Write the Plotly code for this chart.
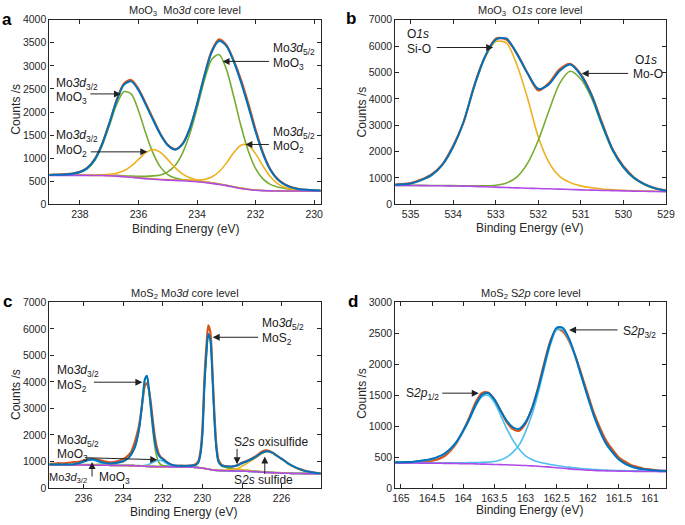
import numpy as np
import plotly.graph_objects as go

W, H = 685, 525
FONT = "Liberation Sans, Arial, Helvetica, sans-serif"

C_DATA = "#D95319"
C_FIT = "#0072BD"
C_GREEN = "#77AC30"
C_YELLOW = "#EDB120"
C_LBLUE = "#4DBEEE"
C_BG = "#B04AE8"

# ---------------- panel a : MoO3 Mo3d ----------------
E_a = [239.25, 239.0, 238.75, 238.5, 238.25, 238.0, 237.75, 237.5, 237.25, 237.0,
       236.75, 236.5, 236.25, 236.0, 235.75, 235.5, 235.25, 235.0, 234.75, 234.5,
       234.25, 234.0, 233.75, 233.5, 233.25, 233.0, 232.75, 232.5, 232.25, 232.0,
       231.75, 231.5, 231.25, 231.0, 230.75, 230.5, 230.25, 230.0, 229.75]
bg_a = [628, 628, 628, 628, 628, 628, 627, 626, 624, 620, 612, 600, 586, 570, 557, 545, 534, 525, 517, 510,
        501, 490, 474, 455, 432, 405, 375, 345, 322, 305, 297, 292, 290, 289, 288, 288, 288, 288, 288]
moo3_32_a = [2, 4, 7, 12, 25, 60, 143, 318, 634, 1077, 1545, 1840, 1805, 1459, 982, 559, 273, 121, 53, 28,
             18, 14, 11, 10, 8, 7, 6, 6, 5, 5, 4, 4, 4, 3, 3, 3, 3, 3, 3]
moo3_52_a = [2, 3, 3, 4, 5, 6, 7, 8, 10, 12, 15, 19, 26, 37, 50, 71, 104, 178, 324, 595,
             1021, 1590, 2211, 2685, 2812, 2524, 1966, 1351, 832, 468, 254, 141, 87, 58, 30, 20, 12, 8, 5]
moo2_32_a = [1, 1, 2, 2, 3, 4, 6, 10, 18, 31, 62, 127, 243, 403, 562, 644, 593, 444, 278, 150,
             74, 36, 20, 14, 10, 8, 7, 6, 5, 5, 4, 4, 3, 3, 3, 2, 2, 2, 2]
moo2_52_a = [1, 1, 1, 1, 2, 2, 2, 2, 2, 3, 3, 3, 4, 5, 6, 7, 9, 11, 13, 17,
             23, 35, 65, 137, 274, 488, 741, 937, 958, 789, 537, 310, 157, 76, 39, 15, 9, 6, 4]
resid_a = [-4, 3, 5, 8, 5, 5, 5, 10, 12, 5, 15, 25, 30, 25, 30, 25, 10, 10, 10, 10,
           5, 5, 10, 20, 40, 20, 20, 50, 60, 40, 25, 10, 5, 0, 0, 0, 0, -3, -5]

# ---------------- panel b : MoO3 O1s ----------------
E_b = [535.5, 535.25, 535.0, 534.75, 534.5, 534.25, 534.0, 533.75, 533.5, 533.25,
       533.0, 532.75, 532.5, 532.25, 532.0, 531.75, 531.5, 531.25, 531.0, 530.75,
       530.5, 530.25, 530.0, 529.75, 529.5, 529.25, 529.0]
bg_b = [716, 715, 714, 711, 708, 703, 698, 690, 680, 667, 652, 638, 625, 612, 600, 589, 578, 564, 550, 539,
        528, 520, 512, 503, 495, 488, 482]
sio_b = [20, 35, 70, 200, 400, 794, 1471, 2453, 3800, 4900, 5520, 5480, 4650, 3400, 1950, 1000, 480, 260, 150, 90,
         55, 35, 22, 15, 11, 8, 6]
moo_b = [5, 5, 6, 7, 8, 10, 12, 16, 22, 35, 70, 170, 420, 950, 1830, 2960, 4000, 4480, 4200, 3500,
         2450, 1500, 880, 480, 250, 110, 30]
resid_b = [0, 10, 15, 20, 30, 20, 40, -20, 30, 0, 40, -40, 20, 0, -60, 50, 60, 20, 30, 40,
           50, 20, 30, 20, 10, 0, 0]

# ---------------- panel c : MoS2 Mo3d ----------------
E_c = [237.75, 237.5, 237.25, 237.0, 236.75, 236.5, 236.25, 236.0, 235.75, 235.5,
       235.25, 235.0, 234.75, 234.5, 234.25, 234.0, 233.75, 233.6, 233.5, 233.4,
       233.3, 233.2, 233.1, 233.0, 232.9, 232.8, 232.7, 232.6, 232.5, 232.4,
       232.3, 232.2, 232.1, 232.0, 231.75, 231.5, 231.25, 231.0, 230.75, 230.5,
       230.4, 230.3, 230.2, 230.1, 230.0, 229.9, 229.8, 229.7, 229.6, 229.5,
       229.4, 229.3, 229.2, 229.1, 229.0, 228.75, 228.5, 228.25, 228.0, 227.75,
       227.5, 227.25, 227.0, 226.75, 226.5, 226.25, 226.0, 225.75, 225.5, 225.25,
       225.0, 224.75, 224.5, 224.25, 224.0]
bg_c = [880, 878, 876, 874, 872, 870, 868, 866, 864, 862, 860, 858, 856, 854, 852, 850, 847,
        845, 843, 841, 838, 834, 829, 824, 819, 815, 811, 808, 806, 805, 804, 803, 802, 801,
        800, 798, 796, 794, 790, 784,
        780, 775, 769, 761, 751, 739, 725, 710, 696, 684, 674, 667, 662, 658, 655,
        650, 646, 642, 637, 630, 622, 612, 601, 590, 580, 571, 563, 557, 552, 548, 545, 542, 540, 538, 537]
mos2_32_c = [6, 7, 8, 9, 10, 12, 14, 17, 20, 25, 30, 38, 50, 70, 100, 150, 270,
             405, 540, 710, 980, 1350, 1925, 2640, 3245, 3350, 2840, 2100, 1350, 745, 370, 170, 85, 50,
             25, 16, 12, 10, 8, 7,
             7, 6, 6, 6, 5, 5, 5, 5, 5, 4, 4, 4, 4, 4, 4,
             4, 3, 3, 3, 3, 3, 3, 3, 3, 2, 2, 2, 2, 2, 2, 2, 2, 2, 2, 2]
mos2_52_c = [4, 4, 5, 5, 5, 5, 6, 6, 6, 7, 7, 7, 8, 8, 9, 9, 10,
             10, 11, 11, 12, 12, 13, 13, 14, 14, 15, 15, 16, 16, 17, 17, 18, 18,
             20, 19, 22, 28, 38, 55,
             70, 110, 200, 505, 1260, 3030, 4290, 5090, 4880, 3640, 2020, 860, 350, 225, 165,
             110, 75, 55, 42, 34, 28, 24, 20, 17, 15, 13, 12, 11, 10, 9, 8, 8, 7, 7, 6]
moo3_32_c = [0, 0, 0, 0, 2, 12, 45, 110, 176, 184, 125, 55, 16, 4, 0, 0, 0,
             0, 0, 0, 0, 0, 0, 0, 0, 0, 0, 0, 0, 0, 0, 0, 0, 0,
             0, 0, 0, 0, 0, 0,
             0, 0, 0, 0, 0, 0, 0, 0, 0, 0, 0, 0, 0, 0, 0,
             0, 0, 0, 0, 0, 0, 0, 0, 0, 0, 0, 0, 0, 0, 0, 0, 0, 0, 0, 0]
moo3_52_c = [0, 0, 0, 0, 0, 0, 0, 0, 0, 0, 0, 0, 0, 0, 0, 0, 0,
             0, 0, 0, 2, 5, 11, 20, 35, 57, 85, 120, 158, 194, 222, 238, 238, 222,
             100, 30, 8, 2, 0, 0,
             0, 0, 0, 0, 0, 0, 0, 0, 0, 0, 0, 0, 0, 0, 0,
             0, 0, 0, 0, 0, 0, 0, 0, 0, 0, 0, 0, 0, 0, 0, 0, 0, 0, 0, 0]
s2s_sulf_c = [0, 0, 0, 0, 0, 0, 0, 0, 0, 0, 0, 0, 0, 0, 0, 0, 0,
              0, 0, 0, 0, 0, 0, 0, 0, 0, 0, 0, 0, 0, 0, 0, 0, 0,
              0, 0, 0, 0, 0, 0,
              0, 0, 0, 0, 0, 0, 0, 0, 0, 0, 2, 3, 4, 5, 8,
              20, 40, 80, 190, 300, 420, 550, 700, 775, 745, 640, 520, 400, 290, 200, 130, 80, 45, 22, 10]
s2s_oxi_c = [0, 0, 0, 0, 0, 0, 0, 0, 0, 0, 0, 0, 0, 0, 0, 0, 0,
             0, 0, 0, 0, 0, 0, 0, 0, 0, 0, 0, 0, 0, 0, 0, 0, 0,
             0, 0, 0, 0, 0, 0,
             0, 0, 0, 0, 0, 0, 0, 0, 0, 0, 0, 0, 0, 3, 8,
             25, 50, 68, 62, 42, 22, 10, 4, 1, 0, 0, 0, 0, 0, 0, 0, 0, 0, 0, 0]
resid_c = [10, 30, 50, 40, 60, 80, 50, 40, 20, 10, 40, 60, 50, 40, 60, 80, 100,
           100, 150, 200, 200, 150, 50, -100, -250, -280, -50, 150, 200, 180, 120, 60, 30, 20,
           10, -10, 0, 10, 0, 10,
           20, 30, 50, 100, 200, 300, 300, 330, 300, 250, 200, 150, 80, 40, 20,
           10, -10, 10, 20, 10, 20, 30, 40, 30, 10, 0, 10, 0, -10, 0, 10, 0, 5, 0, 0]

# ---------------- panel d : MoS2 S2p ----------------
E_d = [165.1, 165.0, 164.9, 164.8, 164.7, 164.6, 164.5, 164.4, 164.3, 164.2,
       164.1, 164.0, 163.9, 163.8, 163.7, 163.6, 163.5, 163.4, 163.3, 163.2,
       163.1, 163.0, 162.9, 162.8, 162.7, 162.6, 162.5, 162.4, 162.3, 162.2,
       162.1, 162.0, 161.9, 161.8, 161.7, 161.6, 161.5, 161.4, 161.3, 161.2,
       161.1, 161.0, 160.9, 160.8, 160.7]
bg_d = [407, 406, 405, 404, 403, 402, 401, 400, 399, 398, 396, 394, 392, 390, 387, 384, 381, 378, 375, 371,
        367, 363, 358, 352, 345, 337, 328, 319, 310, 302, 295, 289, 284, 280, 277, 275, 273, 271, 270, 269,
        268, 267, 266, 265, 265]
s2p12_d = [5, 8, 12, 18, 28, 45, 65, 100, 150, 230, 350, 515, 710, 930, 1088, 1116, 1005, 800, 585, 400,
           260, 158, 104, 72, 54, 44, 36, 30, 27, 23, 20, 18, 16, 14, 13, 11, 10, 10, 9, 8,
           8, 7, 7, 6, 5]
s2p32_d = [3, 3, 4, 4, 5, 5, 6, 7, 8, 10, 12, 15, 18, 22, 27, 34, 48, 75, 125, 210,
           330, 540, 812, 1168, 1582, 1973, 2226, 2240, 2080, 1810, 1490, 1170, 870, 620, 420, 290, 180, 115, 70, 42,
           26, 17, 11, 7, 5]
resid_d = [0, -10, -15, -10, -10, -20, -30, -40, -40, -30, -20, 0, 20, 40, 30, 10, 0, 0, -20, -30,
           -30, -20, 0, 20, 30, 20, -20, -60, -40, 0, 30, 40, 40, 50, 50, 40, 30, 30, 20, 20,
           10, 10, 0, 0, 0]

# tick labels
xt_a = [238, 236, 234, 232, 230]
yt_a = [0, 500, 1000, 1500, 2000, 2500, 3000, 3500, 4000]
xt_b = [535, 534, 533, 532, 531, 530, 529]
yt_b = [0, 1000, 2000, 3000, 4000, 5000, 6000, 7000]
xt_c = [236, 234, 232, 230, 228, 226]
yt_c = [0, 1000, 2000, 3000, 4000, 5000, 6000, 7000]
xt_d = [165, 164.5, 164, 163.5, 163, 162.5, 162, 161.5, 161]
xt_d_text = ["165", "164.5", "164", "163.5", "163", "162.5", "162", "161.5", "161"]
yt_d = [0, 500, 1000, 1500, 2000, 2500, 3000]

fig = go.Figure()


def add_panel(xa, ya, E, bg, comps, resid):
    bg = np.array(bg, dtype=float)
    nets = [np.array(c, dtype=float) for c, _ in comps]
    fit = bg + sum(nets)
    data = fit + np.array(resid, dtype=float)
    common = dict(xaxis=xa, yaxis=ya, mode="lines", hoverinfo="skip", showlegend=False)
    fig.add_trace(go.Scatter(x=E, y=data, line=dict(color=C_DATA, width=2.2, shape="spline", smoothing=0.8), **common))
    for net, col in comps:
        fig.add_trace(go.Scatter(x=E, y=bg + net, line=dict(color=col, width=1.6, shape="spline", smoothing=0.8), **common))
    fig.add_trace(go.Scatter(x=E, y=bg, line=dict(color=C_BG, width=1.6, shape="spline", smoothing=0.8), **common))
    fig.add_trace(go.Scatter(x=E, y=fit, line=dict(color=C_FIT, width=2.0, shape="spline", smoothing=0.8), **common))


add_panel("x", "y", E_a, bg_a, [(moo3_32_a, C_GREEN), (moo3_52_a, C_GREEN),
                                 (moo2_32_a, C_YELLOW), (moo2_52_a, C_YELLOW)], resid_a)
add_panel("x2", "y2", E_b, bg_b, [(sio_b, C_YELLOW), (moo_b, C_GREEN)], resid_b)
add_panel("x3", "y3", E_c, bg_c, [(mos2_32_c, C_GREEN), (mos2_52_c, C_GREEN),
                                   (moo3_32_c, C_LBLUE), (moo3_52_c, C_LBLUE),
                                   (s2s_oxi_c, C_YELLOW), (s2s_sulf_c, C_YELLOW)], resid_c)
add_panel("x4", "y4", E_d, bg_d, [(s2p12_d, C_LBLUE), (s2p32_d, C_LBLUE)], resid_d)

AX = dict(showline=True, mirror="ticks", linecolor="#262626", linewidth=1.2,
          ticks="inside", ticklen=4, tickwidth=1, tickcolor="#262626",
          tickfont=dict(size=10.5, color="#262626", family=FONT),
          showgrid=False, zeroline=False, fixedrange=True)

LX = [47.3 / W, 323.3 / W]
RX = [399.3 / W, 675.0 / W]
TY = [1 - 203.0 / H, 1 - 14.0 / H]
BY = [1 - 493.3 / H, 1 - 303.3 / H]


def xax(dom, rng, tv, tt, anchor):
    return dict(domain=dom, range=rng, tickvals=tv, ticktext=tt, anchor=anchor, **AX)


def yax(dom, rng, tv, anchor):
    return dict(domain=dom, range=rng, tickvals=tv, ticktext=[str(v) for v in tv], anchor=anchor, **AX)


ann = []


def txt(s, px, py, size=12, xanchor="left", color="#1a1a1a", angle=0):
    ann.append(dict(text=s, x=px / W, y=1 - py / H, xref="paper", yref="paper",
                    xanchor=xanchor, yanchor="middle", showarrow=False, textangle=angle,
                    font=dict(size=size, color=color, family=FONT)))


def arrow(xr, yr, x, y, ax, ay):
    ann.append(dict(text="", x=x, y=y, xref=xr, yref=yr, ax=ax, ay=ay,
                    axref="pixel", ayref="pixel", showarrow=True, arrowhead=2,
                    arrowsize=1.4, arrowwidth=1, arrowcolor="#222222", standoff=0, startstandoff=0))


# panel a
txt("Mo<i>3d</i><sub>5/2</sub>", 273, 43.5)
txt("MoO<sub>3</sub>", 273, 59)
txt("Mo<i>3d</i><sub>3/2</sub>", 51.7, 79.5)
txt("MoO<sub>3</sub>", 51.7, 94)
txt("Mo<i>3d</i><sub>3/2</sub>", 51.7, 133.5)
txt("MoO<sub>2</sub>", 51.7, 148)
txt("Mo<i>3d</i><sub>5/2</sub>", 272.7, 129.5)
txt("MoO<sub>2</sub>", 272.7, 144.5)
arrow("x", "y", 233.13, 3096, 48, 0)
arrow("x", "y", 236.6, 2392, -32, 0)
arrow("x", "y", 235.7, 1137, -58, 0)
arrow("x", "y", 232.35, 1297, 25, 0)

# panel b
txt("O<i>1s</i>", 409.3, 28.5)
txt("Si-O", 409.3, 43.5)
txt("O<i>1s</i>", 641, 55)
txt("Mo-O", 639.3, 69.5)
arrow("x2", "y2", 533.06, 5945, -58, 0)
arrow("x2", "y2", 530.98, 4963, 48, 0)

# panel c
txt("Mo<i>3d</i><sub>5/2</sub>", 261.7, 325.5)
txt("MoS<sub>2</sub>", 261.7, 341)
txt("Mo<i>3d</i><sub>3/2</sub>", 53.3, 373.5)
txt("MoS<sub>2</sub>", 53.3, 388.5)
txt("Mo<i>3d</i><sub>5/2</sub>", 53.3, 445)
txt("MoO<sub>3</sub>", 53.3, 459.5)
txt("Mo<i>3d</i><sub>3/2</sub>", 88, 483, size=11, xanchor="right")
txt("MoO<sub>3</sub>", 95.5, 483)
txt("S<i>2s</i> oxisulfide", 232.7, 446.5)
txt("S<i>2s</i> sulfide", 233, 485)
arrow("x3", "y3", 229.48, 5684, 47, 0)
arrow("x3", "y3", 233.03, 3990, -50, 0)
arrow("x3", "y3", 232.28, 1068, -73, -2)
arrow("x3", "y3", 235.57, 980, 0, 16)
arrow("x3", "y3", 228.25, 895, 0, -17)
arrow("x3", "y3", 226.85, 1190, 0, 19)

# panel d
txt("S<i>2p</i><sub>3/2</sub>", 629.3, 333.5)
txt("S<i>2p</i><sub>1/2</sub>", 407.7, 397)
arrow("x4", "y4", 162.3, 2555, 50, 0)
arrow("x4", "y4", 163.75, 1533, -38, 0)

# titles
txt("MoO<sub>3</sub>  Mo<i>3d</i> core level", 185.3, 5.5, size=11, xanchor="center", color="#262626")
txt("MoO<sub>3</sub>  O<i>1s</i> core level", 537.2, 5.5, size=11, xanchor="center", color="#262626")
txt("MoS<sub>2</sub> Mo<i>3d</i> core level", 185.3, 294.5, size=11, xanchor="center", color="#262626")
txt("MoS<sub>2</sub> S<i>2p</i> core level", 537.2, 295, size=11, xanchor="center", color="#262626")

# panel letters
txt("<b>a</b>", 4, 13.5, size=17, xanchor="center", color="#000000")
txt("<b>b</b>", 354.5, 13, size=17, xanchor="center", color="#000000")
txt("<b>c</b>", 4.5, 302.5, size=17, xanchor="center", color="#000000")
txt("<b>d</b>", 356, 302.5, size=17, xanchor="center", color="#000000")

# axis titles
for px, py in [(13.3, 106), (365.3, 108), (13.3, 398), (365.3, 396)]:
    txt("Counts /s", px, py, size=12, xanchor="center", color="#262626", angle=-90)
for px, py in [(186, 228), (536, 227.5), (184, 517.5), (536, 516)]:
    txt("Binding Energy (eV)", px, py, size=12, xanchor="center", color="#262626")

fig.update_layout(
    width=W, height=H, margin=dict(l=0, r=0, t=0, b=0),
    paper_bgcolor="white", plot_bgcolor="white", showlegend=False,
    font=dict(family=FONT, color="#262626"),
    xaxis=xax(LX, [239.04, 229.78], xt_a, [str(v) for v in xt_a], "y"),
    yaxis=yax(TY, [0, 4000], yt_a, "x"),
    xaxis2=xax(RX, [535.36, 528.995], xt_b, [str(v) for v in xt_b], "y2"),
    yaxis2=yax(TY, [0, 7000], yt_b, "x2"),
    xaxis3=xax(LX, [237.72, 224.03], xt_c, [str(v) for v in xt_c], "y3"),
    yaxis3=yax(BY, [0, 7000], yt_c, "x3"),
    xaxis4=xax(RX, [165.09, 160.74], xt_d, xt_d_text, "y4"),
    yaxis4=yax(BY, [0, 3000], yt_d, "x4"),
    annotations=ann,
)

fig.write_html("out.html", config={"displayModeBar": False},
               post_script="document.body.style.margin='0';document.body.style.overflow='hidden';")
